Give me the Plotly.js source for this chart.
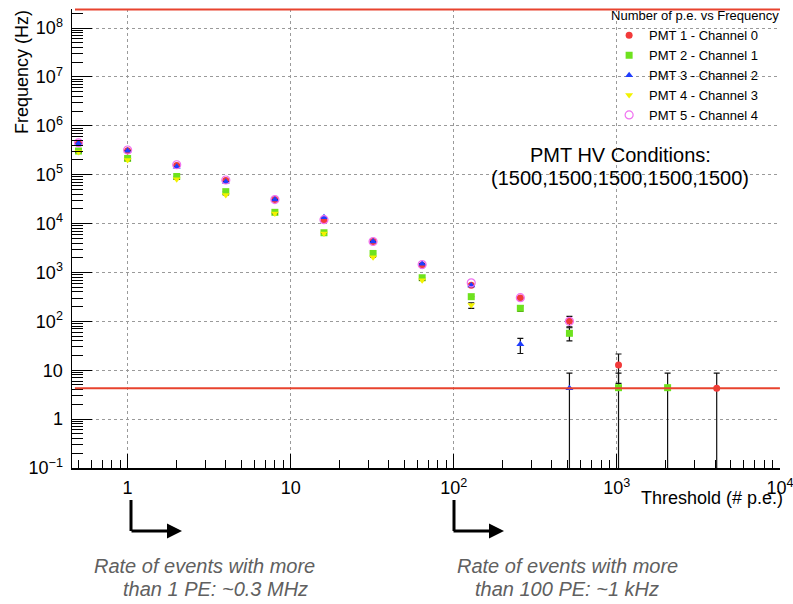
<!DOCTYPE html>
<html>
<head>
<meta charset="utf-8">
<script src="https://cdn.plot.ly/plotly-3.0.1.min.js"></script>
<style>html,body{margin:0;padding:0;background:#fff;}#chart{width:793px;height:604px;}</style>
</head>
<body>
<div id="chart"></div>
<script>
// ---- data ----
const thresholds = [0.5, 1, 2, 4, 8, 16, 32, 64, 128, 256, 512, 1024, 2048, 4096];
const seriesNames = ['PMT 1 - Channel 0', 'PMT 2 - Channel 1', 'PMT 3 - Channel 2', 'PMT 4 - Channel 3', 'PMT 5 - Channel 4'];
const pmt1 = [4.4e5, 3.1e5, 1.55e5, 7.6e4, 3.1e4, 1.17e4, 4.3e3, 1.4e3, 550, 300, 102, 12.8, null, 4.3];
const pmt2 = [3.05e5, 2.15e5, 9.2e4, 4.5e4, 1.7e4, 6.5e3, 2.45e3, 780, 320, 185, 57, 4.4, 4.4, null];
const pmt3 = [4.4e5, 3.1e5, 1.45e5, 7.2e4, 3.1e4, 1.35e4, 4.3e3, 1.5e3, 540, 34, 4.3, null, null, null];
const pmt4 = [2.9e5, 2.0e5, 8.1e4, 3.85e4, 1.6e4, 6.3e3, 2.05e3, 690, 215, null, null, null, null, null];
const pmt5 = [4.5e5, 3.2e5, 1.6e5, 7.8e4, 3.1e4, 1.2e4, 4.3e3, 1.45e3, 615, 305, 100, null, null, null];
// error bars (plus / minus), null = not drawn
const pmt1ErrPlus  = [null, null, null, null, null, null, null, null, null, null, 25, 8.7, null, 4.4];
const pmt1ErrMinus = [null, null, null, null, null, null, null, null, null, null, 25, 7.4, null, 4.29];
const pmt2ErrPlus  = [null, null, null, null, null, null, null, null, null, 25, 17, 4.3, 4.3, null];
const pmt2ErrMinus = [null, null, null, null, null, null, null, null, null, 25, 17, 4.39, 4.39, null];
const pmt3ErrPlus  = [null, null, null, null, null, null, null, null, null, 11, 4.4, null, null, null];
const pmt3ErrMinus = [null, null, null, null, null, null, null, null, null, 12, 4.29, null, null, null];
const pmt4ErrPlus  = [null, null, null, null, null, null, null, null, 25, null, null, null, null, null];
const pmt4ErrMinus = [null, null, null, null, null, null, null, null, 30, null, null, null, null, null];
const xTickVals = [1, 10, 100, 1000, 10000];
const xTickText = ['1', '10', '10<sup>2</sup>', '10<sup>3</sup>', '10<sup>4</sup>'];
const yTickVals = [0.1, 1, 10, 100, 1e3, 1e4, 1e5, 1e6, 1e7, 1e8];
const yTickText = ['10<sup>−1</sup>', '1', '10', '10<sup>2</sup>', '10<sup>3</sup>', '10<sup>4</sup>', '10<sup>5</sup>', '10<sup>6</sup>', '10<sup>7</sup>', '10<sup>8</sup>'];
const lowLine = 4.3;      // red horizontal reference line (Hz)

// ---- layout helpers (pixel -> paper) ----
const W = 793, H = 604, L = 72, R = 13, T = 9, B = 136;
const pw = W - L - R, ph = H - T - B;
const px = x => (x - L) / pw;
const py = y => (H - B - y) / ph;

function minorVals(lo, hi) {
  const v = [];
  for (let e = lo; e < hi; e++) for (let k = 2; k <= 9; k++) v.push(k * Math.pow(10, e));
  return v;
}

const colors = ['#f23a3a', '#6ee21e', '#1f3dff', '#f2f200', '#f070f0'];
const symbols = ['circle', 'square', 'triangle-up', 'triangle-down', 'circle-open'];
const ys = [pmt1, pmt2, pmt3, pmt4, pmt5];
const eP = [pmt1ErrPlus, pmt2ErrPlus, pmt3ErrPlus, pmt4ErrPlus, null];
const eM = [pmt1ErrMinus, pmt2ErrMinus, pmt3ErrMinus, pmt4ErrMinus, null];

const traces = ys.map((y, i) => {
  const t = {
    type: 'scatter', mode: 'markers', name: seriesNames[i],
    x: thresholds, y: y,
    marker: {color: colors[i], symbol: symbols[i], size: i === 4 ? 8 : 7,
             line: {width: i === 4 ? 1.2 : 0, color: colors[i]}},
    cliponaxis: true
  };
  if (eP[i]) {
    t.error_y = {type: 'data', symmetric: false, array: eP[i], arrayminus: eM[i],
                 color: '#111', thickness: 1.2, width: 3};
  }
  return t;
});

const font = 'Liberation Sans, Arial, Helvetica, sans-serif';

const layout = {
  width: W, height: H,
  margin: {l: L, r: R, t: T, b: B, pad: 0, autoexpand: false},
  paper_bgcolor: '#fff', plot_bgcolor: '#fff',
  font: {family: font, color: '#000'},
  showlegend: true,
  legend: {
    x: 1.003, xanchor: 'right', y: 1.012, yanchor: 'top',
    bgcolor: 'rgba(0,0,0,0)', borderwidth: 0,
    title: {text: 'Number of p.e. vs Frequency', font: {size: 13, family: font}},
    font: {size: 13, family: font}, itemsizing: 'trace', tracegroupgap: 0, itemwidth: 30
  },
  xaxis: {
    type: 'log', range: [Math.log10(0.456), 4.0005],
    tickmode: 'array', tickvals: xTickVals, ticktext: xTickText,
    tickfont: {size: 18, family: font}, ticklabeloverflow: 'allow',
    ticks: 'inside', ticklen: 14, tickwidth: 1, tickcolor: '#000',
    ticklabelstandoff: 3,
    showline: true, linecolor: '#000', linewidth: 1.5, mirror: false,
    showgrid: true, gridcolor: '#9a9a9a', griddash: 'dot', gridwidth: 1,
    zeroline: false,
    minor: {tickmode: 'array', tickvals: minorVals(-1, 4), ticks: 'inside', ticklen: 8,
            tickcolor: '#000', tickwidth: 1, showgrid: false}
  },
  yaxis: {
    type: 'log', range: [-1, 8.39],
    tickmode: 'array', tickvals: yTickVals, ticktext: yTickText,
    tickfont: {size: 18, family: font},
    ticks: 'inside', ticklen: 20, tickwidth: 1, tickcolor: '#000',
    ticklabelstandoff: 4,
    showline: true, linecolor: '#000', linewidth: 1.5, mirror: false,
    showgrid: true, gridcolor: '#9a9a9a', griddash: 'dot', gridwidth: 1,
    zeroline: false,
    minor: {tickmode: 'array', tickvals: minorVals(-1, 9), ticks: 'inside', ticklen: 11,
            tickcolor: '#000', tickwidth: 1, showgrid: false}
  },
  shapes: [
    // white legend panel hiding gridlines (below traces)
    {type: 'rect', xref: 'paper', yref: 'paper', x0: px(605), x1: px(782), y0: py(128), y1: py(10),
     fillcolor: '#fff', line: {width: 0}, layer: 'between'},
    {type: 'line', xref: 'x', yref: 'y', x0: 0.475, x1: 10000, y0: lowLine, y1: lowLine,
     line: {color: '#e8432e', width: 2}, layer: 'above'},
    {type: 'line', xref: 'paper', yref: 'paper', x0: px(75), x1: 1, y0: py(9.5), y1: py(9.5),
     line: {color: '#e8432e', width: 2}, layer: 'above'},
    {type: 'line', xref: 'paper', yref: 'paper', x0: px(131), x1: px(131), y0: py(500), y1: py(531),
     line: {color: '#000', width: 3}},
    {type: 'line', xref: 'paper', yref: 'paper', x0: px(454), x1: px(454), y0: py(500), y1: py(531),
     line: {color: '#000', width: 3}}
  ],
  annotations: [
    {xref: 'paper', yref: 'paper', x: px(22), y: py(72), text: 'Frequency (Hz)', textangle: -90,
     showarrow: false, font: {size: 18, family: font}, xanchor: 'center', yanchor: 'middle'},
    {xref: 'paper', yref: 'paper', x: px(785), y: py(498), text: 'Threshold (# p.e.)',
     showarrow: false, font: {size: 18, family: font}, xanchor: 'right', yanchor: 'middle'},
    {xref: 'paper', yref: 'paper', x: px(620), y: py(155), text: 'PMT HV Conditions:',
     showarrow: false, font: {size: 20, family: font}, xanchor: 'center', yanchor: 'middle'},
    {xref: 'paper', yref: 'paper', x: px(620), y: py(178), text: '(1500,1500,1500,1500,1500)',
     showarrow: false, font: {size: 20, family: font}, xanchor: 'center', yanchor: 'middle'},
    {xref: 'paper', yref: 'paper', x: px(182), y: py(531), ax: -52, ay: 0, axref: 'pixel', ayref: 'pixel',
     text: '', showarrow: true, arrowhead: 2, arrowsize: 1, arrowwidth: 3, arrowcolor: '#000'},
    {xref: 'paper', yref: 'paper', x: px(504), y: py(531), ax: -52, ay: 0, axref: 'pixel', ayref: 'pixel',
     text: '', showarrow: true, arrowhead: 2, arrowsize: 1, arrowwidth: 3, arrowcolor: '#000'},
    {xref: 'paper', yref: 'paper', x: px(204), y: py(566), text: '<i>Rate of events with more</i>',
     showarrow: false, font: {size: 20, family: font, color: '#606060'}, xanchor: 'center', yanchor: 'middle'},
    {xref: 'paper', yref: 'paper', x: px(215), y: py(589), text: '<i>than 1 PE: ~0.3 MHz</i>',
     showarrow: false, font: {size: 20, family: font, color: '#606060'}, xanchor: 'center', yanchor: 'middle'},
    {xref: 'paper', yref: 'paper', x: px(567), y: py(566), text: '<i>Rate of events with more</i>',
     showarrow: false, font: {size: 20, family: font, color: '#606060'}, xanchor: 'center', yanchor: 'middle'},
    {xref: 'paper', yref: 'paper', x: px(567), y: py(589), text: '<i>than 100 PE: ~1 kHz</i>',
     showarrow: false, font: {size: 20, family: font, color: '#606060'}, xanchor: 'center', yanchor: 'middle'}
  ]
};

Plotly.newPlot('chart', traces, layout, {displayModeBar: false, staticPlot: true});
</script>
</body>
</html>
